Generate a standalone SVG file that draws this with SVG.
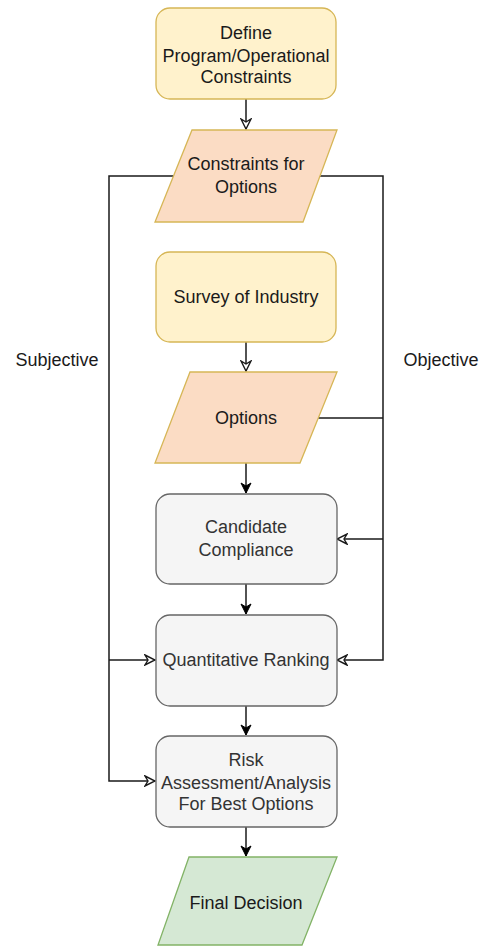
<svg xmlns="http://www.w3.org/2000/svg" width="491" height="947" viewBox="0 0 491 947">
  <style>
    .lbl { font-family: "Liberation Sans", Arial, sans-serif; font-size: 18px; text-anchor: middle; }
    .dark { fill: #1a1a1a; }
    .grey { fill: #333333; }
    .yellow { fill: #fff2cc; stroke: #d6b656; stroke-width: 1.3; }
    .peach { fill: #fbdcc4; stroke: #d6b656; stroke-width: 1.3; }
    .gray { fill: #f5f5f5; stroke: #666666; stroke-width: 1.3; }
    .green { fill: #d5e8d4; stroke: #82b366; stroke-width: 1.3; }
    .wire { fill: none; stroke: #1a1a1a; stroke-width: 1.5; }
  </style>
  <defs>
    <!-- hollow open arrowhead -->
    <marker id="hollow" viewBox="0 0 12 12" refX="11" refY="6" markerWidth="12" markerHeight="12" markerUnits="userSpaceOnUse" orient="auto">
      <path d="M1,1 L11,6 L1,11 L4,6 Z" fill="#ffffff" stroke="#1a1a1a" stroke-width="1.4"/>
    </marker>
    <!-- solid arrowhead -->
    <marker id="solid" viewBox="0 0 12 12" refX="11" refY="6" markerWidth="12" markerHeight="12" markerUnits="userSpaceOnUse" orient="auto">
      <path d="M1,1 L11,6 L1,11 L4,6 Z" fill="#000000" stroke="#000000" stroke-width="1"/>
    </marker>
  </defs>

  <rect width="491" height="947" fill="#ffffff"/>

  <g id="connectors">
    <!-- main flow -->
    <path class="wire" d="M246,99 V129" marker-end="url(#hollow)"/>
    <path class="wire" d="M246,342 V371" marker-end="url(#hollow)"/>
    <path class="wire" d="M246,463 V493" marker-end="url(#solid)"/>
    <path class="wire" d="M246,584 V614" marker-end="url(#solid)"/>
    <path class="wire" d="M246,706 V735" marker-end="url(#solid)"/>
    <path class="wire" d="M246,827 V856" marker-end="url(#solid)"/>
    <!-- subjective branch -->
    <path class="wire" d="M174,176 H109 V781 H155" marker-end="url(#hollow)"/>
    <path class="wire" d="M109,660 H155" marker-end="url(#hollow)"/>
    <!-- objective branch -->
    <path class="wire" d="M318,176 H383 V660 H337" marker-end="url(#hollow)"/>
    <path class="wire" d="M318,418 H383"/>
    <path class="wire" d="M383,539 H337" marker-end="url(#hollow)"/>
  </g>

  <g id="define">
    <rect class="yellow" x="156" y="8" width="180" height="91" rx="14"/>
    <text class="lbl dark" x="246" y="39">Define</text>
    <text class="lbl dark" x="246" y="62">Program/Operational</text>
    <text class="lbl dark" x="246" y="83">Constraints</text>
  </g>

  <g id="constraints">
    <polygon class="peach" points="192,130 337,130 303,222 155,222"/>
    <text class="lbl dark" x="246" y="170">Constraints for</text>
    <text class="lbl dark" x="246" y="193">Options</text>
  </g>

  <g id="survey">
    <rect class="yellow" x="156" y="252" width="180" height="90" rx="14"/>
    <text class="lbl dark" x="246" y="303">Survey of Industry</text>
  </g>

  <g id="options">
    <polygon class="peach" points="190,372 337,372 300,463 155,463"/>
    <text class="lbl dark" x="246" y="424">Options</text>
  </g>

  <g id="compliance">
    <rect class="gray" x="156" y="494" width="181" height="90" rx="14"/>
    <text class="lbl grey" x="246" y="533">Candidate</text>
    <text class="lbl grey" x="246" y="556">Compliance</text>
  </g>

  <g id="ranking">
    <rect class="gray" x="156" y="615" width="181" height="91" rx="14"/>
    <text class="lbl grey" x="246" y="666">Quantitative Ranking</text>
  </g>

  <g id="risk">
    <rect class="gray" x="156" y="736" width="181" height="91" rx="14"/>
    <text class="lbl grey" x="246" y="766">Risk</text>
    <text class="lbl grey" x="246" y="789">Assessment/Analysis</text>
    <text class="lbl grey" x="246" y="810">For Best Options</text>
  </g>

  <g id="final">
    <polygon class="green" points="189,857 337,857 302,945 158,945"/>
    <text class="lbl dark" x="246" y="909">Final Decision</text>
  </g>

  <g id="side-labels">
    <text class="lbl dark" x="57" y="366">Subjective</text>
    <text class="lbl dark" x="441" y="366">Objective</text>
  </g>
</svg>
